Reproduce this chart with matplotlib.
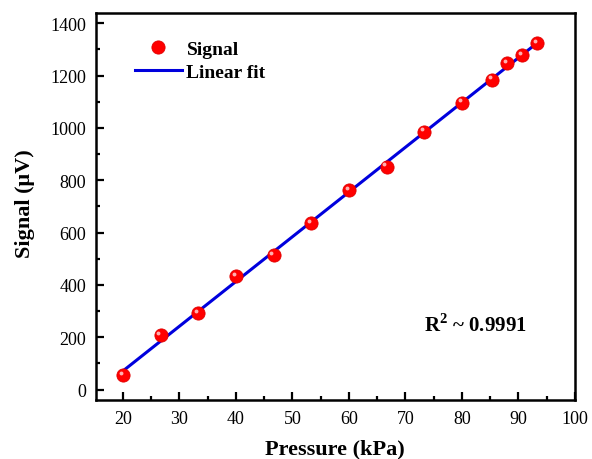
import numpy as np
import matplotlib
matplotlib.use("Agg")
from matplotlib import pyplot as plt
from matplotlib import transforms
from matplotlib.ticker import MultipleLocator

pressure = [20, 26.67, 33.33, 40, 46.67, 53.33, 60, 66.67, 73.33, 80, 85.33, 88, 90.67, 93.33]
signal = [57, 207, 291, 433, 514, 637, 763, 852, 986, 1097, 1185, 1247, 1277, 1323]

plt.rcParams['font.family'] = ['Liberation Serif', 'DejaVu Serif']
plt.rcParams['mathtext.fontset'] = 'custom'
plt.rcParams['mathtext.rm'] = 'Liberation Serif'
plt.rcParams['mathtext.bf'] = 'Liberation Serif:bold'

fig = plt.figure(figsize=(5.92, 4.6), dpi=100)
ax = fig.add_axes([0.162, 0.128, 0.809, 0.842])

coef = np.polyfit(pressure, signal, 1)
xfit = np.array([min(pressure), max(pressure)])
ax.plot(xfit, np.polyval(coef, xfit), color='#0000dd', lw=2.2, label='Linear fit', zorder=2)
ax.plot(pressure, signal, 'o', color='#ff0000', ms=9.5, mec='#e00000', mew=0.6,
        label='Signal', zorder=3)
# little highlight to look like the shaded spheres
shift = transforms.ScaledTranslation(-1.6/72, 1.6/72, fig.dpi_scale_trans)
ax.plot(pressure, signal, 'o', color='#ffb0b0', ms=2.8, mew=0,
        transform=ax.transData + shift, zorder=4)

ax.set_xlim(15.2, 100)
ax.set_ylim(-40, 1440)
ax.xaxis.set_major_locator(MultipleLocator(10))
ax.xaxis.set_minor_locator(MultipleLocator(5))
ax.yaxis.set_major_locator(MultipleLocator(200))
ax.yaxis.set_minor_locator(MultipleLocator(100))
ax.tick_params(which='both', direction='in', top=False, right=False, width=1.6)
ax.tick_params(which='major', length=5.5, labelsize=13, pad=7)
ax.tick_params(which='minor', length=3)
for s in ax.spines.values():
    s.set_linewidth(1.8)

ax.set_xlabel('Pressure (kPa)', fontsize=16, fontweight='bold')
ax.set_ylabel('Signal (\u03bcV)', fontsize=16, fontweight='bold')
ax.xaxis.set_label_coords(0.5, -0.098)
ax.yaxis.set_label_coords(-0.128, 0.51)

h, l = ax.get_legend_handles_labels()
ax.legend([h[1], h[0]], [l[1], l[0]], loc='upper left', frameon=False,
          prop={'weight': 'bold', 'size': 14}, bbox_to_anchor=(0.045, 0.975),
          handlelength=2.4, handletextpad=0.25, labelspacing=0.3)

ax.text(73.3, 250, 'R$^\\mathbf{2}$ ~ 0.9991', fontsize=15, fontweight='bold', va='center')

fig.savefig('out.png', dpi=100)
